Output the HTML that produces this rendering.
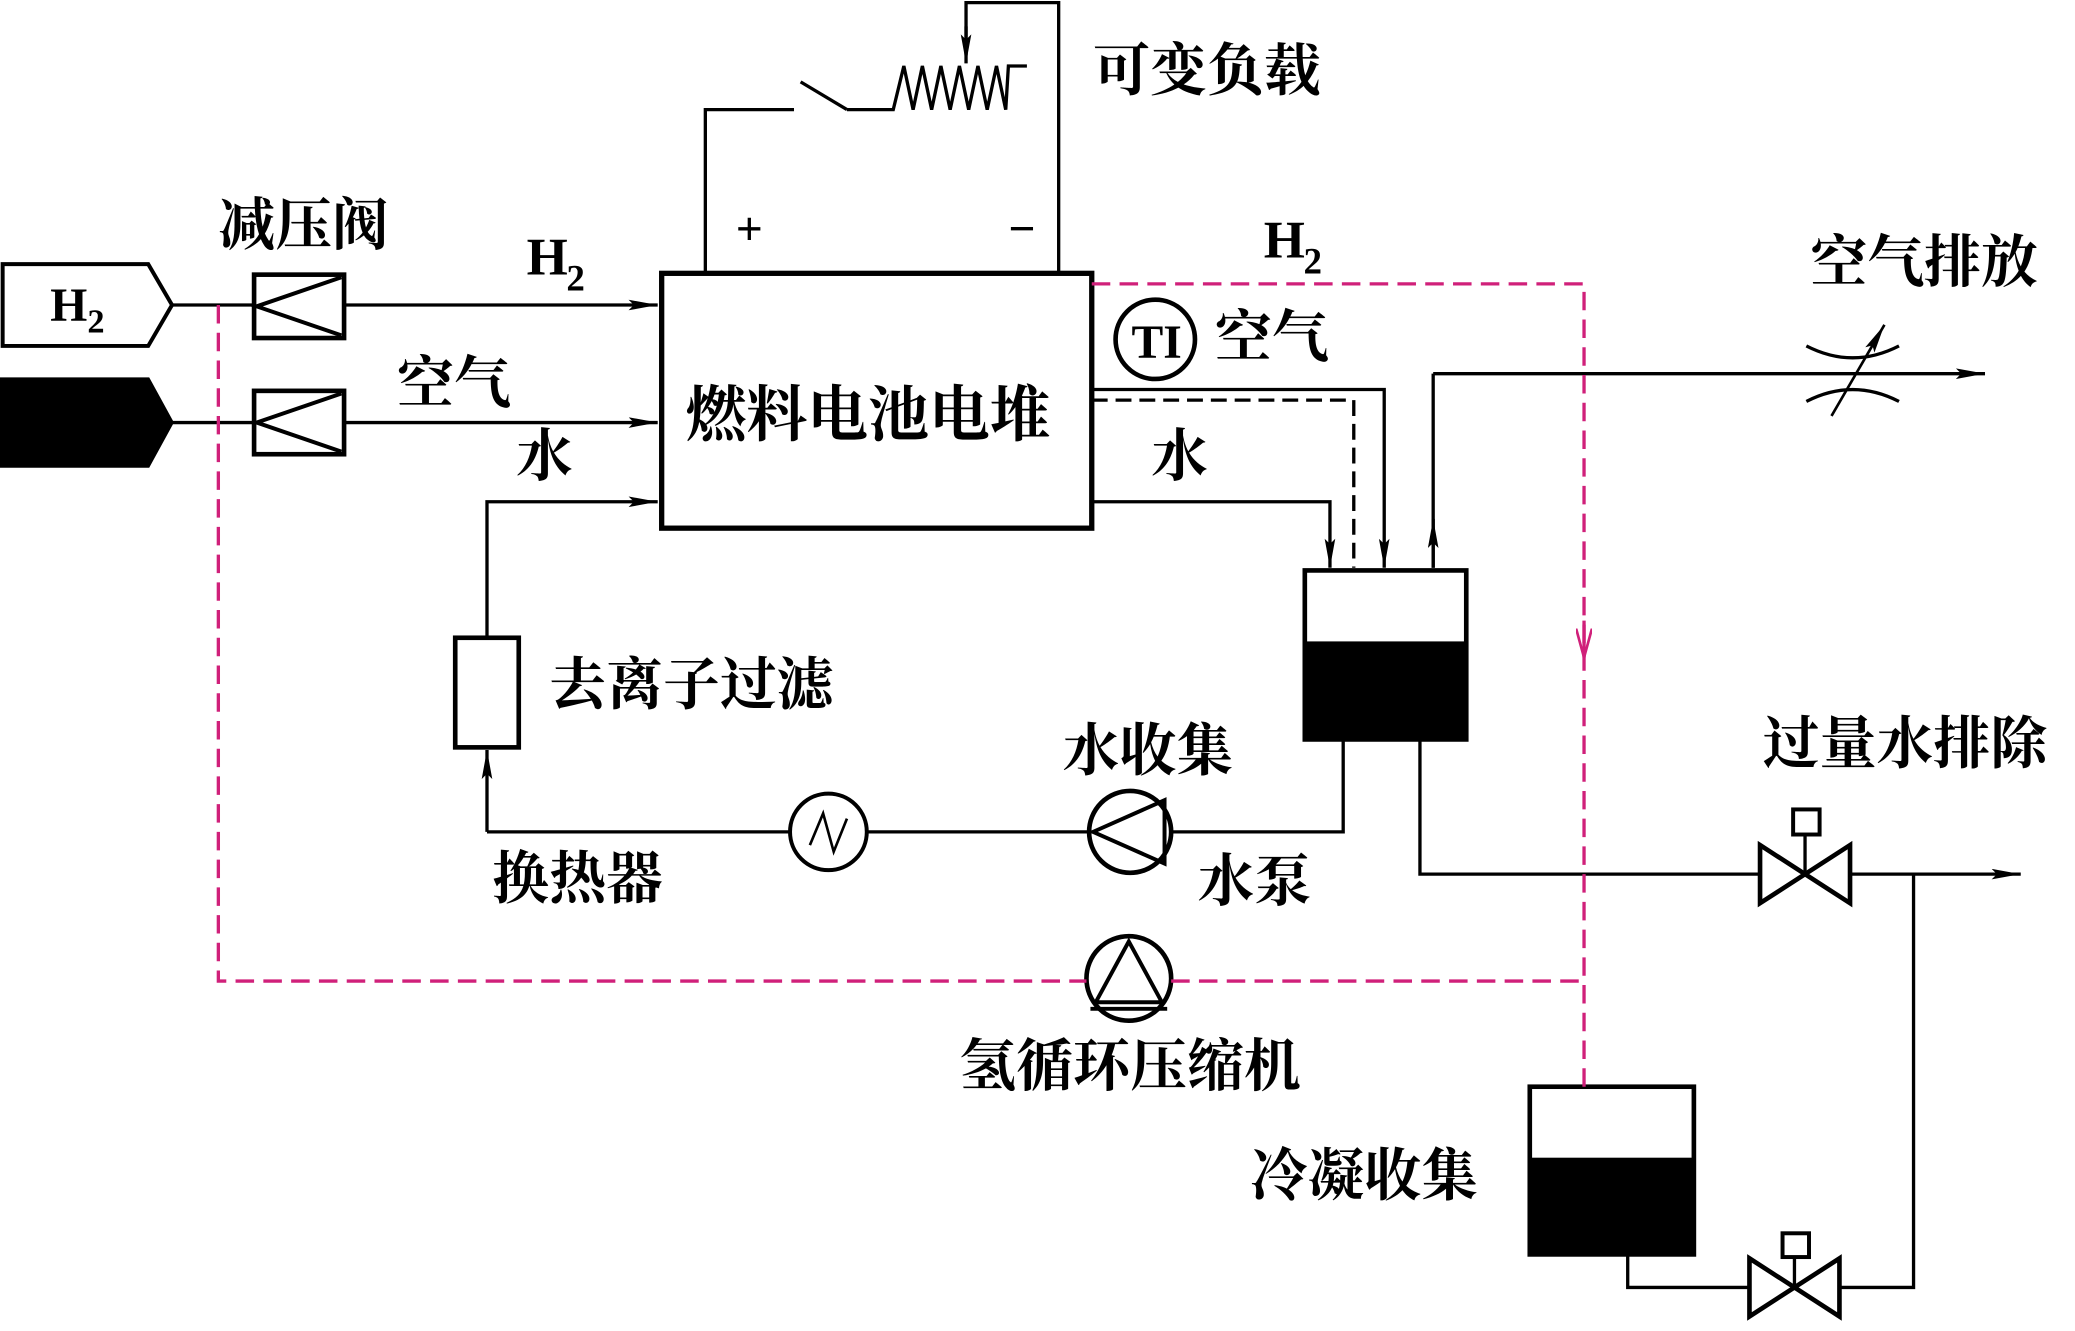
<!DOCTYPE html>
<html><head><meta charset="utf-8"><style>
html,body{margin:0;padding:0;background:#fff;}
svg{display:block;}
text{font-family:"Liberation Serif","Noto Serif CJK SC",serif;fill:#000;font-weight:bold;}
</style></head><body>
<svg width="2075" height="1331" viewBox="0 0 1568 1008" preserveAspectRatio="none" xmlns="http://www.w3.org/2000/svg">
<defs>
<marker id="a" markerWidth="22" markerHeight="8" refX="22" refY="4" orient="auto" markerUnits="userSpaceOnUse" viewBox="0 0 22 8"><path d="M0,0 L22,4 L0,8 L4,4 Z" fill="#000"/></marker>
<marker id="am" markerWidth="12" markerHeight="22" refX="6" refY="22" orient="0" markerUnits="userSpaceOnUse" viewBox="0 0 12 22"><path d="M0,0 L6,22 L12,0" fill="none" stroke="#d0207a" stroke-width="2"/></marker>
</defs>
<g stroke="#000" stroke-width="2.5" fill="none">
<path d="M2,200 L112,200 L130,231 L112,262 L2,262 Z" stroke-width="3"/>
<path d="M0,287 L112,287 L130,320 L112,353 L0,353 Z" fill="#000"/>
<line x1="130" y1="231" x2="192" y2="231"/>
<line x1="130" y1="320" x2="192" y2="320"/>
<rect x="192" y="208" width="68" height="48" stroke-width="3.5"/>
<path d="M258,210 L194,232 L258,254" stroke-width="3"/>
<rect x="192" y="296" width="68" height="48" stroke-width="3.5"/>
<path d="M258,298 L194,320 L258,342" stroke-width="3"/>
<line x1="260" y1="231" x2="497" y2="231" marker-end="url(#a)"/>
<line x1="260" y1="320" x2="497" y2="320" marker-end="url(#a)"/>
<rect x="500" y="207" width="325" height="193" stroke-width="4"/>
<path d="M368,483 L368,380 L497,380" marker-end="url(#a)"/>
<rect x="344" y="483" width="48" height="83" stroke-width="3.5"/>
<path d="M368,630 L368,568" marker-end="url(#a)"/>
<line x1="368" y1="630" x2="597" y2="630"/>
<circle cx="626" cy="630" r="29" stroke-width="3"/>
<path d="M612,640 L622,616 L630,645 L640,620" stroke-width="2"/>
<line x1="655" y1="630" x2="822" y2="630"/>
<circle cx="854" cy="630" r="31" stroke-width="3.5"/>
<path d="M826,630 L880,606 L880,654 Z" stroke-width="3"/>
<path d="M885,630 L1015,630 L1015,560"/>
<rect x="986" y="487" width="122" height="73" fill="#000"/>
<rect x="986" y="432" width="122" height="128" stroke-width="3.5"/>
<path d="M825,295 L1046,295 L1046,430" marker-end="url(#a)"/>
<path d="M825,303 L1023,303 L1023,430" stroke-dasharray="12,6"/>
<path d="M825,380 L1005,380 L1005,430" marker-end="url(#a)"/>
<path d="M1083,430 L1083,283" />
<path d="M1083,430 L1083,393" marker-end="url(#a)"/>
<line x1="1083" y1="283" x2="1500" y2="283" marker-end="url(#a)"/>
<path d="M1365,262 Q1400,280 1435,262"/>
<path d="M1365,304 Q1400,286 1435,304"/>
<line x1="1384" y1="315" x2="1424" y2="246" marker-end="url(#a)" stroke-width="2"/>
<path d="M1073,560 L1073,662 L1330,662"/>
<path d="M1330,640 L1398,684 L1398,640 L1330,684 Z" stroke-width="3.5"/>
<line x1="1364" y1="662" x2="1364" y2="632"/>
<rect x="1355" y="613" width="20" height="19" stroke-width="3"/>
<line x1="1398" y1="662" x2="1527" y2="662" marker-end="url(#a)"/>
<path d="M1446,662 L1446,975 L1390,975"/>
<rect x="1156" y="878" width="124" height="72" fill="#000"/>
<rect x="1156" y="823" width="124" height="127" stroke-width="3.5"/>
<path d="M1230,950 L1230,975 L1322,975"/>
<path d="M1322,953 L1390,997 L1390,953 L1322,997 Z" stroke-width="3.5"/>
<line x1="1356" y1="975" x2="1356" y2="952"/>
<rect x="1347" y="934" width="20" height="18" stroke-width="3"/>
<path d="M533,207 L533,83 L600,83"/>
<line x1="605" y1="62" x2="640" y2="83"/>
<path d="M640,83 L675,83 L683,50 L690,83 L697,50 L704,83 L711,50 L718,83 L725,50 L732,83 L739,50 L746,83 L753,50 L760,83 L762,50 L776,50"/>
<path d="M800,207 L800,2 L730,2 L730,42" />
<path d="M730,20 L730,48" marker-end="url(#a)"/>
<circle cx="873" cy="257" r="30" stroke-width="3.5"/>
<circle cx="853" cy="741" r="32" stroke-width="3.5"/>
<path d="M853,713 L828,759 L878,759 Z" stroke-width="3"/>
<line x1="824" y1="764" x2="882" y2="764" stroke-width="3"/>
</g>
<g stroke="#d0207a" stroke-width="2.5" fill="none" stroke-dasharray="14,7">
<path d="M825,215 L1197,215 L1197,823"/>
<path d="M165,231 L165,743 L821,743"/>
<path d="M885,743 L1197,743"/>
</g>
<path d="M1197,470 L1197,498" stroke="#d0207a" stroke-width="2.5" marker-end="url(#am)"/>
<g font-size="43">
<text x="38" y="243" font-size="36">H</text><text x="66" y="252" font-size="26">2</text>
<text x="165" y="185">减压阀</text>
<text x="398" y="208" font-size="40">H</text><text x="428" y="220" font-size="28">2</text>
<text x="300" y="305">空气</text>
<text x="390" y="360">水</text>
<text x="518" y="330" font-size="46">燃料电池电堆</text>
<text x="556" y="185" font-size="36">+</text>
<text x="762" y="185" font-size="36">−</text>
<text x="826" y="68">可变负载</text>
<text x="955" y="195" font-size="40">H</text><text x="985" y="207" font-size="28">2</text>
<text x="855" y="271" font-size="36">TI</text>
<text x="918" y="270">空气</text>
<text x="870" y="360">水</text>
<text x="1368" y="213">空气排放</text>
<text x="415" y="533">去离子过滤</text>
<text x="803" y="583">水收集</text>
<text x="1332" y="578">过量水排除</text>
<text x="372" y="680">换热器</text>
<text x="905" y="682">水泵</text>
<text x="725" y="822">氢循环压缩机</text>
<text x="945" y="905">冷凝收集</text>
</g>
</svg>
</body></html>
